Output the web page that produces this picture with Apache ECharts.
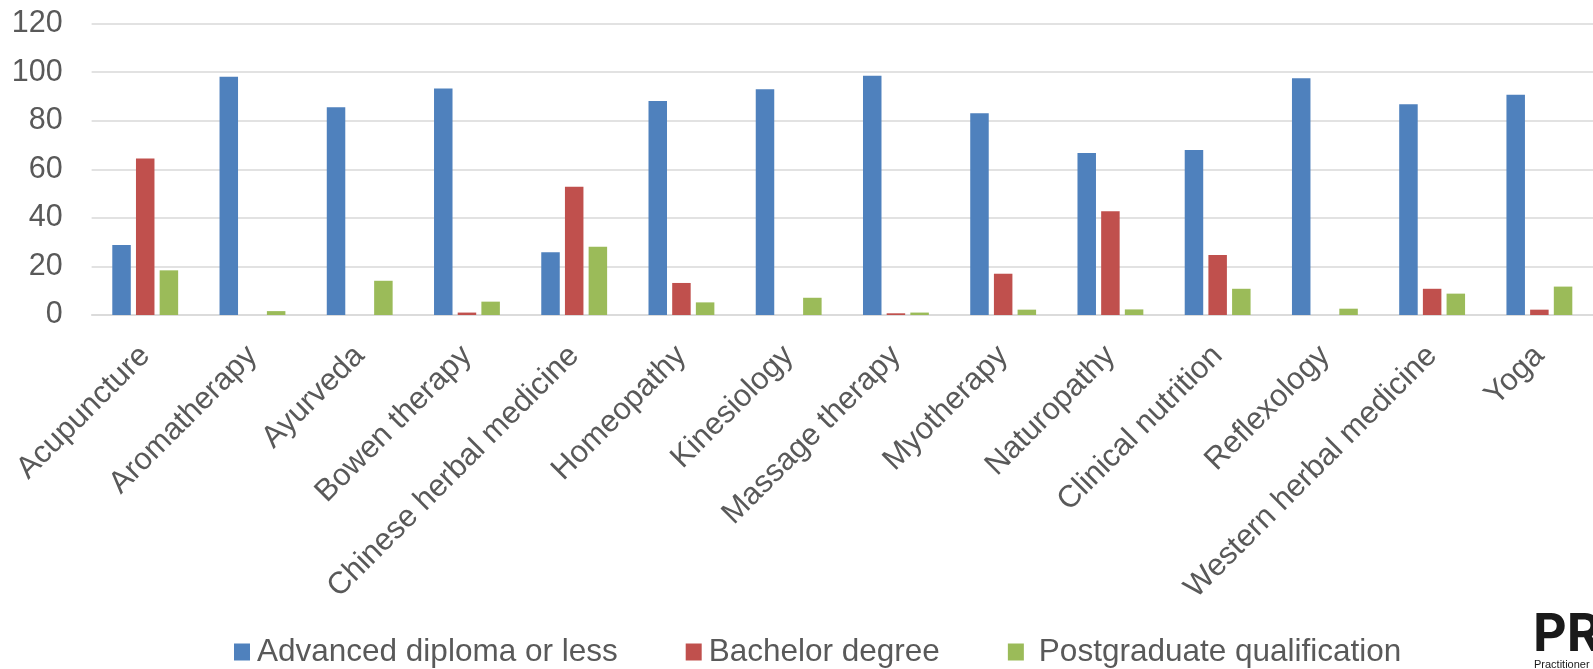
<!DOCTYPE html>
<html>
<head>
<meta charset="utf-8">
<script src="https://cdn.jsdelivr.net/npm/echarts@6/dist/echarts.min.js"></script>
<style>
  html, body { margin: 0; padding: 0; background: #ffffff; }
  #chart { width: 1593px; height: 669px; }
</style>
</head>
<body>
<div id="chart"></div>
<script>
// Qualification level of practitioners, by profession (per cent)
const categories = [
  'Acupuncture', 'Aromatherapy', 'Ayurveda', 'Bowen therapy',
  'Chinese herbal medicine', 'Homeopathy', 'Kinesiology', 'Massage therapy',
  'Myotherapy', 'Naturopathy', 'Clinical nutrition', 'Reflexology',
  'Western herbal medicine', 'Yoga'
];
const seriesNames = ['Advanced diploma or less', 'Bachelor degree', 'Postgraduate qualification'];
const advancedDiploma = [28.8, 98.1, 85.6, 93.3, 25.8, 88.2, 93.0, 98.6, 83.1, 66.7, 68.0, 97.5, 86.8, 90.7];
const bachelorDegree  = [64.5, 0, 0, 1.0, 52.8, 13.2, 0, 0.7, 17.0, 42.7, 24.7, 0, 10.8, 2.2];
const postgraduate    = [18.4, 1.6, 14.1, 5.5, 28.1, 5.2, 7.1, 1.0, 2.2, 2.3, 10.8, 2.6, 8.8, 11.7];
const yTicks = [0, 20, 40, 60, 80, 100, 120];

const colors = ['#4F81BD', '#C0504D', '#9BBB59'];
const textColor = '#595959';
const fontFamily = 'Liberation Sans, Arial, sans-serif';

const chart = echarts.init(document.getElementById('chart'), null, { renderer: 'canvas' });

const values = [advancedDiploma, bachelorDegree, postgraduate];

chart.setOption({
  animation: false,
  backgroundColor: '#ffffff',
  color: colors,
  grid: { left: 91.6, top: 23.7, width: 1509, height: 291.3, containLabel: false },
  legend: {
    left: 234,
    top: 636,
    padding: 0,
    itemWidth: 16,
    itemHeight: 17,
    itemGap: 68,
    icon: 'rect',
    textStyle: { color: textColor, fontSize: 31.5, fontFamily: fontFamily, padding: [0, 0, 0, 2] },
    data: [
      { name: seriesNames[0] },
      { name: seriesNames[1] },
      { name: seriesNames[2], textStyle: { padding: [0, 0, 0, 10] } }
    ]
  },
  xAxis: {
    type: 'category',
    data: categories,
    axisLine: { show: true, lineStyle: { color: '#d9d9d9', width: 1.5 } },
    axisTick: { show: false },
    axisLabel: {
      interval: 0,
      rotate: 45,
      margin: 36,
      color: textColor,
      fontSize: 31,
      fontFamily: fontFamily
    }
  },
  yAxis: {
    type: 'value',
    min: yTicks[0],
    max: yTicks[yTicks.length - 1],
    interval: yTicks[1] - yTicks[0],
    axisLine: { show: false },
    axisTick: { show: false },
    splitLine: { lineStyle: { color: '#d9d9d9', width: 1.5 } },
    axisLabel: { margin: 29, color: textColor, fontSize: 30.5, fontFamily: fontFamily }
  },
  series: seriesNames.map((name, i) => ({
    name: name,
    type: 'bar',
    data: values[i],
    barWidth: 18.5,
    barGap: '28%',
    itemStyle: { color: colors[i] }
  })),
  graphic: [
    {
      type: 'text',
      left: 1533,
      top: 609,
      style: { text: 'PR', fill: '#1a1a1a', fontSize: 52, fontWeight: 'bold', fontFamily: 'Inter, Liberation Sans, sans-serif' }
    },
    {
      type: 'text',
      left: 1534,
      top: 659,
      style: { text: 'Practitioner', fill: '#1a1a1a', fontSize: 11, fontFamily: fontFamily }
    }
  ]
});
</script>
</body>
</html>
